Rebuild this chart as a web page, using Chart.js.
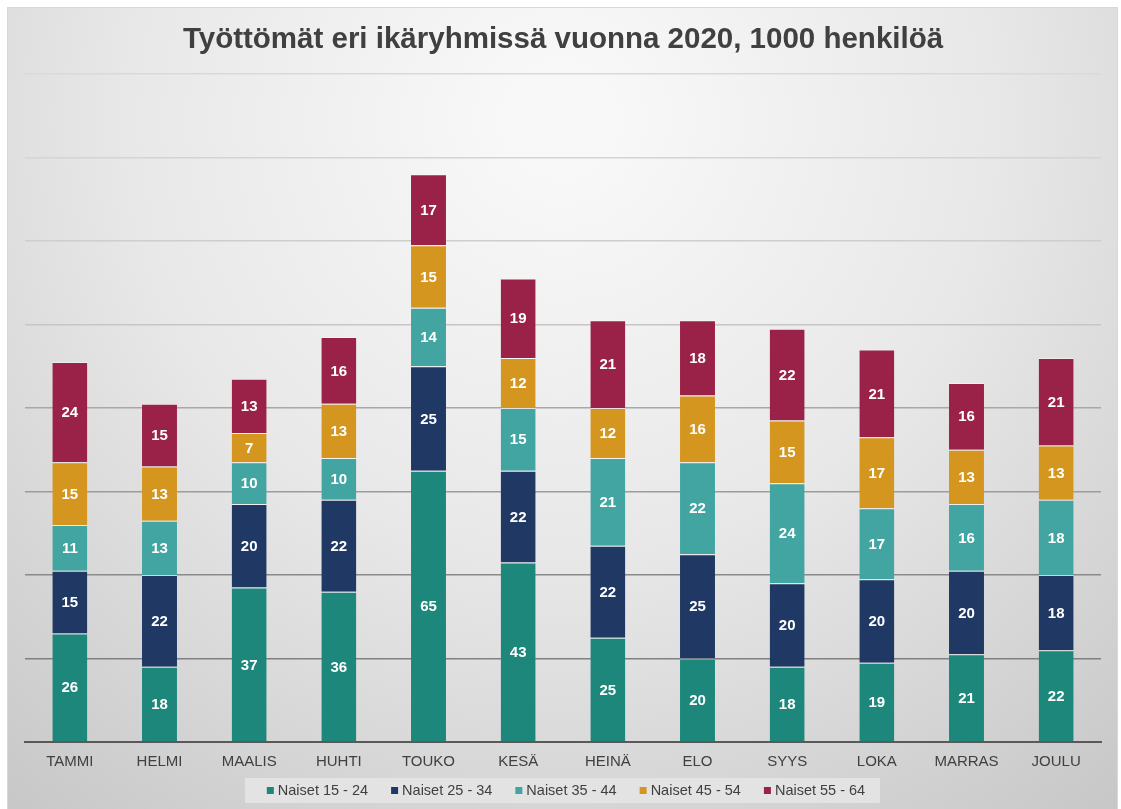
<!DOCTYPE html>
<html>
<head>
<meta charset="utf-8">
<script src="https://cdn.jsdelivr.net/npm/chart.js@4"></script>
<style>
  body { margin: 0; background: #fff; }
  canvas { display: block; }
</style>
</head>
<body>
<canvas id="chart" width="1121" height="809"></canvas>
<script>
// Työttömät naiset ikäryhmittäin, 1000 henkilöä
const months = ['TAMMI', 'HELMI', 'MAALIS', 'HUHTI', 'TOUKO', 'KESÄ', 'HEINÄ', 'ELO', 'SYYS', 'LOKA', 'MARRAS', 'JOULU'];
const naiset15_24 = [26, 18, 37, 36, 65, 43, 25, 20, 18, 19, 21, 22];
const naiset25_34 = [15, 22, 20, 22, 25, 22, 22, 25, 20, 20, 20, 18];
const naiset35_44 = [11, 13, 10, 10, 14, 15, 21, 22, 24, 17, 16, 18];
const naiset45_54 = [15, 13, 7, 13, 15, 12, 12, 16, 15, 17, 13, 13];
const naiset55_64 = [24, 15, 13, 16, 17, 19, 21, 18, 22, 21, 16, 21];
const yTicks = [0, 20, 40, 60, 80, 100, 120, 140, 160];

const FONT = "'Liberation Sans', Arial, sans-serif";

// gridlines get lighter towards the top
const gridColors = {
    0: '#595959', 20: '#808080', 40: '#8a8a8a', 60: '#9c9c9c', 80: '#a8a8a8',
    100: '#c6c6c6', 120: '#cecece', 140: '#d4d4d4', 160: '#d9d9d9'
};

const backgroundPlugin = {
    id: 'bg',
    beforeDraw(chart) {
        const ctx = chart.ctx;
        ctx.save();
        ctx.fillStyle = '#ffffff';
        ctx.fillRect(0, 0, chart.width, chart.height);
        const g = ctx.createRadialGradient(560, 120, 50, 560, 120, 900);
        g.addColorStop(0, '#f8f8f8');
        g.addColorStop(0.45, '#e8e8e8');
        g.addColorStop(1, '#c6c6c6');
        ctx.fillStyle = g;
        ctx.fillRect(7, 7, 1110, 802);
        ctx.strokeStyle = '#d8d8d8';
        ctx.lineWidth = 1;
        ctx.strokeRect(7.5, 7.5, 1110, 802);
        ctx.restore();
    }
};

// legend drawn by hand to get the small boxes and the panel behind them
const legendPlugin = {
    id: 'bottomLegend',
    afterDraw(chart) {
        const ctx = chart.ctx;
        const ds = chart.data.datasets;
        ctx.save();
        ctx.fillStyle = '#e3e3e3';
        ctx.fillRect(245, 778, 635, 25);
        ctx.font = '14.5px ' + FONT;
        ctx.textBaseline = 'middle';
        const box = 7, gap = 4, spacing = 23;
        const widths = ds.map(d => box + gap + ctx.measureText(d.label).width);
        const total = widths.reduce((a, b) => a + b, 0) + spacing * (ds.length - 1);
        let x = 566 - total / 2;
        const y = 790.5;
        ds.forEach((d, i) => {
            ctx.fillStyle = d.backgroundColor;
            ctx.fillRect(x, y - box / 2, box, box);
            ctx.fillStyle = '#404040';
            ctx.fillText(d.label, x + box + gap, y);
            x += widths[i] + spacing;
        });
        ctx.restore();
    }
};

const labelPlugin = {
    id: 'segLabels',
    afterDatasetsDraw(chart) {
        const ctx = chart.ctx;
        ctx.save();
        ctx.font = 'bold 15px ' + FONT;
        ctx.fillStyle = '#ffffff';
        ctx.textAlign = 'center';
        ctx.textBaseline = 'middle';
        chart.data.datasets.forEach((ds, i) => {
            chart.getDatasetMeta(i).data.forEach((bar, j) => {
                const y = (bar.y + bar.base) / 2;
                ctx.fillText(ds.data[j], bar.x, y + 1);
            });
        });
        ctx.restore();
    }
};

function series(label, data, color) {
    return {
        label: label,
        data: data,
        backgroundColor: color,
        borderColor: 'rgba(255,255,255,0.45)',
        borderWidth: { top: 1, left: 0, right: 0, bottom: 0 },
        borderSkipped: false,
        barPercentage: 0.39,
        categoryPercentage: 1
    };
}

const ctx = document.getElementById('chart').getContext('2d');
new Chart(ctx, {
    type: 'bar',
    data: {
        labels: months,
        datasets: [
            series('Naiset 15 - 24', naiset15_24, '#1e877b'),
            series('Naiset 25 - 34', naiset25_34, '#1f3864'),
            series('Naiset 35 - 44', naiset35_44, '#42a5a2'),
            series('Naiset 45 - 54', naiset45_54, '#d4961f'),
            series('Naiset 55 - 64', naiset55_64, '#9a2249')
        ]
    },
    options: {
        responsive: false,
        animation: false,
        devicePixelRatio: 1,
        layout: { padding: { left: 25, right: 20, top: 0, bottom: 27 } },
        plugins: {
            title: {
                display: true,
                text: 'Työttömät eri ikäryhmissä vuonna 2020, 1000 henkilöä',
                color: '#404040',
                font: { family: FONT, size: 29.5, weight: 'bold' },
                padding: { top: 22, bottom: 16.6 }
            },
            legend: { display: false },
            tooltip: { enabled: false }
        },
        scales: {
            x: {
                stacked: true,
                grid: { display: false, drawTicks: false },
                border: { display: true, color: '#595959', width: 2 },
                ticks: {
                    color: '#404040',
                    font: { family: FONT, size: 15 },
                    padding: 11
                }
            },
            y: {
                stacked: true,
                min: 0,
                max: 160,
                afterBuildTicks(axis) {
                    axis.ticks = yTicks.map(v => ({ value: v }));
                },
                ticks: { display: false },
                border: { display: false },
                grid: {
                    drawTicks: false,
                    lineWidth: 1.5,
                    color: c => gridColors[c.tick.value] || '#cccccc'
                }
            }
        }
    },
    plugins: [backgroundPlugin, labelPlugin, legendPlugin]
});
</script>
</body>
</html>
